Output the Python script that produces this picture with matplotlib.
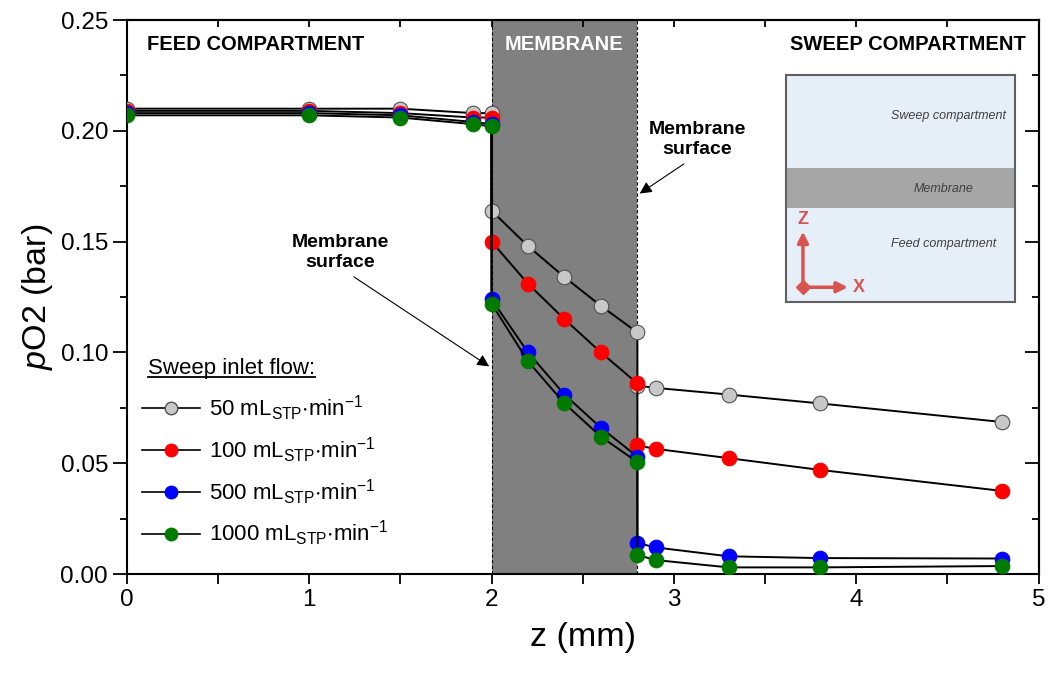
import numpy as np
import matplotlib
matplotlib.use("Agg")
import matplotlib.pyplot as plt
from matplotlib.lines import Line2D

plt.rcParams["font.family"] = ["Liberation Sans", "DejaVu Sans"]
plt.rcParams["mathtext.fontset"] = "custom"
plt.rcParams["mathtext.rm"] = "Liberation Sans"
plt.rcParams["mathtext.it"] = "Liberation Sans:italic"

# positions (mm): feed, membrane, sweep
z_feed = [0, 1, 1.5, 1.9, 2.0]
z_memb = [2.0, 2.2, 2.4, 2.6, 2.8]
z_sweep = [2.8, 2.9, 3.3, 3.8, 4.8]

flows = ["50", "100", "500", "1000"]
colors = ["#c8c8c8", "#ff0000", "#0000ff", "#007a00"]

po2_feed = [
    [0.210, 0.210, 0.210, 0.208, 0.208],
    [0.209, 0.209, 0.208, 0.206, 0.206],
    [0.208, 0.208, 0.207, 0.204, 0.203],
    [0.207, 0.207, 0.206, 0.203, 0.202],
]
po2_memb = [
    [0.164, 0.148, 0.134, 0.121, 0.109],
    [0.150, 0.131, 0.115, 0.100, 0.086],
    [0.124, 0.100, 0.081, 0.066, 0.053],
    [0.122, 0.096, 0.077, 0.062, 0.0505],
]
po2_sweep = [
    [0.085, 0.084, 0.081, 0.077, 0.0686],
    [0.058, 0.0565, 0.0523, 0.047, 0.0375],
    [0.014, 0.012, 0.008, 0.0072, 0.007],
    [0.0086, 0.0063, 0.003, 0.003, 0.0036],
]

fig = plt.figure(figsize=(10.48, 6.79), dpi=100)
ax = fig.add_axes([0.121, 0.1546, 0.870, 0.8159])

# membrane region
ax.axvspan(2.0, 2.8, color="#808080", zorder=0, lw=0)
ax.axvline(2.0, color="k", ls=(0, (3, 2)), lw=0.8, zorder=1)
ax.axvline(2.8, color="k", ls=(0, (3, 2)), lw=0.8, zorder=1)

for i in range(4):
    z = z_feed + z_memb + z_sweep
    p = po2_feed[i] + po2_memb[i] + po2_sweep[i]
    ax.plot(z, p, "-o", color="k", lw=1.4, mfc=colors[i],
            mec="#505050" if i == 0 else colors[i], mew=0.8, ms=10.5,
            zorder=3 + i * 0.1)

ax.set_xlim(0, 5)
ax.set_ylim(0, 0.25)
ax.set_xticks([0, 1, 2, 3, 4, 5])
ax.set_xticks(np.arange(0.5, 5, 1), minor=True)
ax.set_yticks([0, 0.05, 0.10, 0.15, 0.20, 0.25])
ax.set_yticks(np.arange(0.025, 0.25, 0.05), minor=True)
ax.set_yticklabels(["0.00", "0.05", "0.10", "0.15", "0.20", "0.25"])
ax.tick_params(axis="x", which="both", direction="out", length=7, width=1.3,
               labelsize=17.5)
ax.tick_params(axis="y", which="major", direction="out", length=10, width=1.3,
               labelsize=17.5)
ax.tick_params(axis="y", which="minor", direction="out", length=5, width=1.3)
for s in ax.spines.values():
    s.set_linewidth(1.5)

# inward ticks on top and right
top = ax.secondary_xaxis("top")
top.set_xticks([0, 1, 2, 3, 4, 5])
top.set_xticks(np.arange(0.5, 5, 1), minor=True)
top.tick_params(which="both", direction="in", length=5, width=1.3, labeltop=False)
top.spines["top"].set_linewidth(1.5)
right = ax.secondary_yaxis("right")
right.set_yticks([0, 0.05, 0.10, 0.15, 0.20, 0.25])
right.set_yticks(np.arange(0.025, 0.25, 0.05), minor=True)
right.tick_params(which="major", direction="in", length=10, width=1.3, labelright=False)
right.tick_params(which="minor", direction="in", length=5, width=1.3)
right.spines["right"].set_linewidth(1.5)

ax.set_xlabel("z (mm)", fontsize=24.5, labelpad=8)
ax.set_ylabel(r"$\it{p}$O2 (bar)", fontsize=24.5, labelpad=4)

ax.text(0.11, 0.239, "FEED COMPARTMENT", fontsize=14.5, fontweight="bold", va="center")
ax.text(2.4, 0.239, "MEMBRANE", fontsize=14.5, fontweight="bold", color="white",
        va="center", ha="center")
ax.text(4.93, 0.239, "SWEEP COMPARTMENT", fontsize=14.5, fontweight="bold",
        va="center", ha="right")

ax.annotate("Membrane\nsurface", xy=(2.0, 0.093), xytext=(1.17, 0.145),
            ha="center", va="center", fontsize=14, fontweight="bold",
            arrowprops=dict(arrowstyle="-|>", color="k", lw=0.8, shrinkA=4,
                            relpos=(0.55, 0.0), mutation_scale=18))
ax.annotate("Membrane\nsurface", xy=(2.8, 0.171), xytext=(3.13, 0.196),
            ha="center", va="center", fontsize=14, fontweight="bold",
            arrowprops=dict(arrowstyle="-|>", color="k", lw=0.8, shrinkA=4,
                            relpos=(0.45, 0.0), mutation_scale=18))

labels = [r"%s mL$_{\mathregular{STP}}$$\mathregular{\cdot}$min$^{\mathregular{-1}}$" % f
          for f in flows]
leg_handles = [Line2D([], [], color="k", lw=1.2, marker="o", ms=9, mfc=c,
                      mec="#505050" if i == 0 else c) for i, c in enumerate(colors)]
leg = ax.legend(leg_handles, labels, loc="lower left", bbox_to_anchor=(0.0, 0.018),
                frameon=False, fontsize=16, handlelength=2.6, handletextpad=0.4,
                labelspacing=0.55, borderaxespad=0.3)

title_txt = ax.text(0.023, 0.352, "Sweep inlet flow:", transform=ax.transAxes,
                    fontsize=16, va="bottom")
fig.canvas.draw()
bb = title_txt.get_window_extent().transformed(ax.transAxes.inverted())
ax.plot([bb.x0, bb.x1], [bb.y0 + 0.003, bb.y0 + 0.003], color="k", lw=1.3,
        transform=ax.transAxes, clip_on=False)

# inset sketch
ins = fig.add_axes([786 / 1048, (679 - 302) / 679, 229 / 1048, 227 / 679])
ins.set_xlim(0, 1)
ins.set_ylim(0, 1)
ins.set_facecolor("#e6eef8")
ins.set_xticks([])
ins.set_yticks([])
for s in ins.spines.values():
    s.set_linewidth(1.5)
    s.set_color("#606060")
ins.axhspan(0.414, 0.59, color="#a6a6a6", lw=0)
ins.text(0.96, 0.82, "Sweep compartment", ha="right", va="center",
         fontsize=9, style="italic", color="#404040")
ins.text(0.69, 0.50, "Membrane", ha="center", va="center",
         fontsize=9, style="italic", color="#404040")
ins.text(0.69, 0.255, "Feed compartment", ha="center", va="center",
         fontsize=9, style="italic", color="#404040")
red = "#d9534f"
ins.annotate("", xy=(0.074, 0.31), xytext=(0.074, 0.065),
             arrowprops=dict(arrowstyle="-|>", color=red, lw=2.5, shrinkA=0, shrinkB=0,
                             mutation_scale=16))
ins.annotate("", xy=(0.27, 0.065), xytext=(0.074, 0.065),
             arrowprops=dict(arrowstyle="-|>", color=red, lw=2.5, shrinkA=0, shrinkB=0,
                             mutation_scale=16))
ins.plot([0.074], [0.065], marker="D", color=red, ms=7)
ins.text(0.074, 0.365, "Z", color=red, fontsize=13, fontweight="bold", ha="center", va="center")
ins.text(0.32, 0.065, "X", color=red, fontsize=13, fontweight="bold", ha="center", va="center")

fig.savefig("out.png", dpi=100)
